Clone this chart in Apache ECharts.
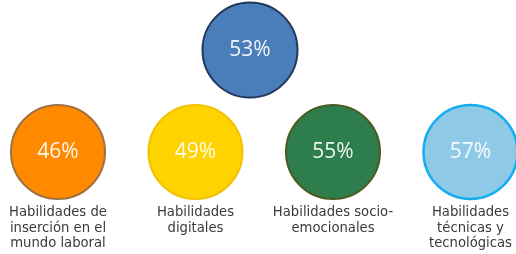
<!DOCTYPE html>
<html>
<head>
<meta charset="utf-8">
<script src="https://cdn.jsdelivr.net/npm/echarts@6/dist/echarts.min.js"></script>
<style>
  html, body { margin: 0; padding: 0; background: #fff; }
  #main { width: 516px; height: 254px; }
</style>
</head>
<body>
<div id="main"></div>
<script>
// 数据
const totalLabel = ['Total']
const totalValue = [53]
const categories = [
  'Habilidades de\ninserción en el\nmundo laboral',
  'Habilidades\ndigitales',
  'Habilidades socio-\nemocionales',
  'Habilidades\ntécnicas y\ntecnológicas'
]
const values = [46, 49, 55, 57]

// 颜色
const fillColors = ['#ff8a00', '#ffd300', '#2e7d4c', '#8ecae6']
const borderColors = ['#a07040', '#f2c200', '#4e5a20', '#12aef0']

const myChart = echarts.init(document.getElementById('main'))

const pctLabel = {
  show: true,
  position: 'inside',
  fontFamily: 'Open Sans',
  fontSize: 21,
  color: 'rgba(255,255,255,0.92)',
  formatter: function(p) {
    return p.value[2] + '%'
  }
}

const option = {
  animation: false,
  grid: [
    { left: 202, width: 96, top: 2, height: 96, outerBoundsMode: 'none' },
    { left: -10.75, width: 550, top: 104, height: 96, outerBoundsMode: 'none' }
  ],
  xAxis: [
    {
      gridIndex: 0,
      type: 'category',
      data: totalLabel,
      show: false
    },
    {
      gridIndex: 1,
      type: 'category',
      data: categories,
      axisLine: { show: false },
      axisTick: { show: false },
      axisLabel: {
        show: true,
        interval: 0,
        hideOverlap: false,
        margin: 5,
        fontFamily: 'DejaVu Sans',
        fontSize: 13.2,
        lineHeight: 15.5,
        color: '#3a3a3a',
        align: 'center'
      }
    }
  ],
  yAxis: [
    { gridIndex: 0, type: 'value', min: -1, max: 1, show: false },
    { gridIndex: 1, type: 'value', min: -1, max: 1, show: false }
  ],
  series: [
    {
      type: 'scatter',
      xAxisIndex: 0,
      yAxisIndex: 0,
      symbolSize: 95,
      data: totalValue.map((v, i) => [i, 0, v]),
      itemStyle: {
        color: '#4a7ebb',
        borderColor: '#22385a',
        borderWidth: 2,
        opacity: 1
      },
      label: pctLabel
    },
    {
      type: 'scatter',
      xAxisIndex: 1,
      yAxisIndex: 1,
      symbolSize: 94,
      data: values.map((v, i) => ({
        value: [i, 0, v],
        itemStyle: {
          color: fillColors[i],
          borderColor: borderColors[i],
          borderWidth: i === 3 ? 2.5 : 2,
          opacity: 1
        }
      })),
      label: pctLabel
    }
  ]
}

myChart.setOption(option)
</script>
</body>
</html>
